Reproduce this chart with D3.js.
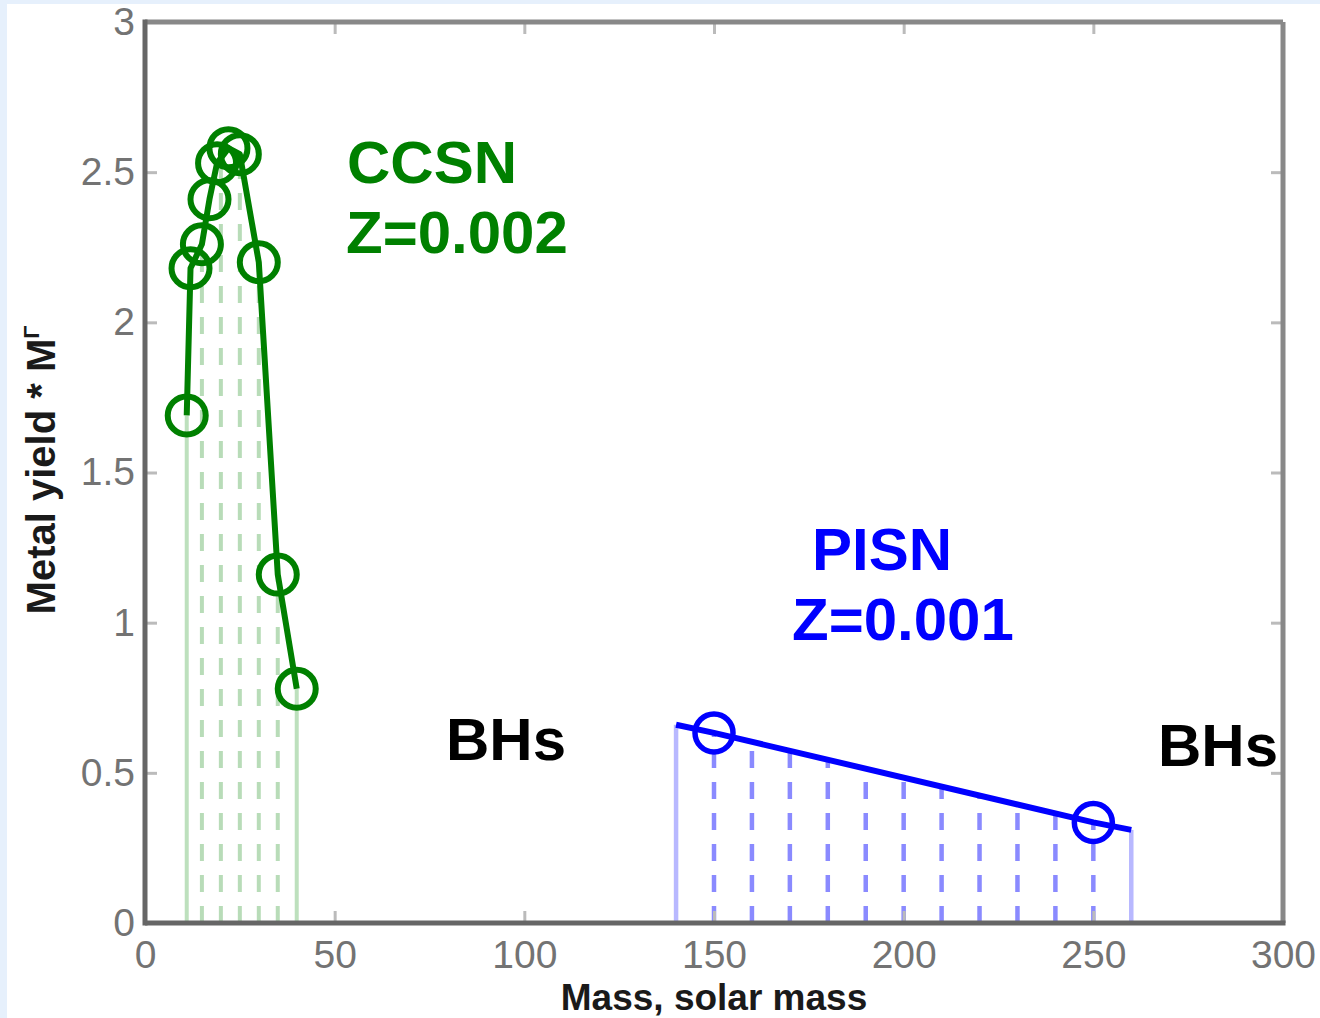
<!DOCTYPE html>
<html>
<head>
<meta charset="utf-8">
<script src="https://cdn.jsdelivr.net/npm/d3@7"></script>
<style>
  html, body { margin: 0; padding: 0; background: #ffffff; }
  svg { display: block; }
</style>
</head>
<body>
<script>
// ---------------- data ----------------
const xTicks = [0, 50, 100, 150, 200, 250, 300];
const yTicks = [0, 0.5, 1, 1.5, 2, 2.5, 3];

// CCSN, Z=0.002
const ccsnMass  = [11, 12, 15, 17, 19, 22, 25, 30, 35, 40];
const ccsnYield = [1.69, 2.18, 2.26, 2.41, 2.53, 2.58, 2.56, 2.20, 1.16, 0.78];
const ccsnSolidMass = [11, 40];
const ccsnSolidTop  = [1.69, 0.78];
const ccsnDashMass  = [15, 20, 25, 30, 35];
const ccsnDashTop   = [2.26, 2.54, 2.56, 2.20, 1.16];

// PISN, Z=0.001
const pisnMass  = [150, 250];
const pisnYield = [0.633, 0.335];
const pisnLineMass  = [140, 150, 250, 260];
const pisnLineYield = [0.66, 0.633, 0.335, 0.31];
const pisnSolidMass = [140, 260];
const pisnSolidTop  = [0.66, 0.31];
const pisnDashMass  = [150, 160, 170, 180, 190, 200, 210, 220, 230, 240, 250];
const pisnDashTop   = [0.633, 0.60, 0.57, 0.54, 0.51, 0.48, 0.45, 0.42, 0.39, 0.36, 0.335];

const labels = [
  { text: "CCSN",    x: 347,  y: 183, color: "#008000" },
  { text: "Z=0.002", x: 346,  y: 253, color: "#008000" },
  { text: "PISN",    x: 812,  y: 570, color: "#0000ff" },
  { text: "Z=0.001", x: 792,  y: 640, color: "#0000ff" },
  { text: "BHs",     x: 446,  y: 760, color: "#000000" },
  { text: "BHs",     x: 1158, y: 766, color: "#000000" }
];

// ---------------- layout ----------------
const W = 1320, H = 1018;
const L = 145, R = 1283, T = 22, B = 923;

const svg = d3.select("body").append("svg")
  .attr("width", W).attr("height", H);

svg.append("rect").attr("width", W).attr("height", H).attr("fill", "#ffffff");
svg.append("rect").attr("x", 0).attr("y", 0).attr("width", W).attr("height", 4).attr("fill", "#e6f0fc");
svg.append("rect").attr("x", 0).attr("y", 0).attr("width", 7).attr("height", H).attr("fill", "#e6f0fc");

const x = d3.scaleLinear().domain([0, 300]).range([L, R]);
const y = d3.scaleLinear().domain([0, 3]).range([B, T]);

const fontFam = "'Liberation Sans', Arial, Helvetica, sans-serif";
const fmt = d3.format("~g");

// ---------------- vertical integration lines ----------------
function verticals(mass, tops, color, width, dash) {
  svg.append("g").selectAll("line")
    .data(d3.zip(mass, tops))
    .join("line")
    .attr("x1", d => x(d[0])).attr("x2", d => x(d[0]))
    .attr("y1", y(0)).attr("y2", d => y(d[1]))
    .attr("stroke", color)
    .attr("stroke-width", width)
    .attr("stroke-dasharray", dash || null);
}
verticals(ccsnSolidMass, ccsnSolidTop, "#bde0bd", 4, null);
verticals(ccsnDashMass, ccsnDashTop, "#b8dcb8", 4, "17,14");
verticals(pisnSolidMass, pisnSolidTop, "#b8b8ff", 4.5, null);
verticals(pisnDashMass, pisnDashTop, "#8a8aff", 4.5, "17,14");

// ---------------- series ----------------
const line = d3.line().x(d => x(d[0])).y(d => y(d[1]));

svg.append("path")
  .datum(d3.zip(ccsnMass, ccsnYield))
  .attr("d", line)
  .attr("fill", "none").attr("stroke", "#008000").attr("stroke-width", 6)
  .attr("stroke-linejoin", "round");

svg.append("g").selectAll("circle")
  .data(d3.zip(ccsnMass, ccsnYield))
  .join("circle")
  .attr("cx", d => x(d[0])).attr("cy", d => y(d[1])).attr("r", 19)
  .attr("fill", "none").attr("stroke", "#008000").attr("stroke-width", 6);

svg.append("path")
  .datum(d3.zip(pisnLineMass, pisnLineYield))
  .attr("d", line)
  .attr("fill", "none").attr("stroke", "#0000ff").attr("stroke-width", 6)
  .attr("stroke-linejoin", "round");

svg.append("g").selectAll("circle")
  .data(d3.zip(pisnMass, pisnYield))
  .join("circle")
  .attr("cx", d => x(d[0])).attr("cy", d => y(d[1])).attr("r", 19)
  .attr("fill", "none").attr("stroke", "#0000ff").attr("stroke-width", 5.5);

// ---------------- axes ----------------
function styleAxis(g) {
  g.select(".domain").remove();
  g.selectAll(".tick line").attr("stroke", "#bbbbbb").attr("stroke-width", 3);
  g.selectAll(".tick text")
    .attr("fill", "#737373")
    .style("font-family", fontFam)
    .style("font-size", "39px");
}

svg.append("g").attr("transform", `translate(0,${B})`)
  .call(d3.axisBottom(x).tickValues(xTicks).tickFormat(fmt).tickSize(-12).tickSizeOuter(0).tickPadding(17))
  .call(styleAxis);
svg.append("g").attr("transform", `translate(0,${T})`)
  .call(d3.axisTop(x).tickValues(xTicks).tickSize(-12).tickSizeOuter(0).tickFormat(""))
  .call(styleAxis);
svg.append("g").attr("transform", `translate(${L},0)`)
  .call(d3.axisLeft(y).tickValues(yTicks).tickFormat(fmt).tickSize(-12).tickSizeOuter(0).tickPadding(10))
  .call(styleAxis);
svg.append("g").attr("transform", `translate(${R},0)`)
  .call(d3.axisRight(y).tickValues(yTicks).tickSize(-12).tickSizeOuter(0).tickFormat(""))
  .call(styleAxis);

// frame
svg.append("line").attr("x1", L).attr("x2", R).attr("y1", T).attr("y2", T)
  .attr("stroke", "#888888").attr("stroke-width", 5);
svg.append("line").attr("x1", R).attr("x2", R).attr("y1", T).attr("y2", B)
  .attr("stroke", "#888888").attr("stroke-width", 5);
svg.append("line").attr("x1", L).attr("x2", L).attr("y1", T - 2.5).attr("y2", B + 2.5)
  .attr("stroke", "#666666").attr("stroke-width", 5);
svg.append("line").attr("x1", L).attr("x2", R + 2.5).attr("y1", B).attr("y2", B)
  .attr("stroke", "#666666").attr("stroke-width", 5);

// axis titles
svg.append("text")
  .attr("x", (L + R) / 2).attr("y", 1010)
  .attr("text-anchor", "middle")
  .style("font-family", fontFam).style("font-size", "37px").style("font-weight", "bold")
  .attr("fill", "#1a1a1a")
  .text("Mass, solar mass");

const yl = svg.append("text")
  .attr("transform", "translate(55,470) rotate(-90)")
  .attr("text-anchor", "middle")
  .style("font-family", fontFam).style("font-size", "40px").style("font-weight", "bold")
  .attr("fill", "#1a1a1a");
yl.append("tspan").text("Metal yield * M");
yl.append("tspan").attr("dy", -16).style("font-size", "22px").text("Γ");

// annotations
svg.append("g").selectAll("text")
  .data(labels)
  .join("text")
  .attr("x", d => d.x).attr("y", d => d.y)
  .attr("fill", d => d.color)
  .style("font-family", fontFam).style("font-size", "60px").style("font-weight", "bold")
  .text(d => d.text);
</script>
</body>
</html>
